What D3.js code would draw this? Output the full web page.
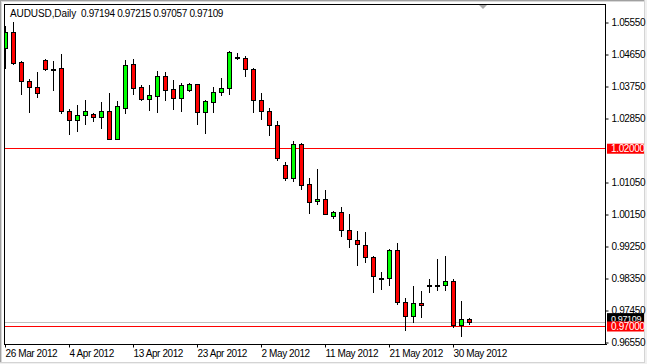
<!DOCTYPE html>
<html><head><meta charset="utf-8">
<script src="https://cdn.jsdelivr.net/npm/d3@7"></script>
<style>html,body{margin:0;padding:0;background:#fff;}svg{display:block;}</style>
</head><body>
<script>
const symbolTitle = "AUDUSD,Daily";
const lastBar = ["0.97194","0.97215","0.97057","0.97109"];
const tickIndex = [0,8,16,24,32,40,48,56];
const tickLabels = ["26 Mar 2012","4 Apr 2012","13 Apr 2012","23 Apr 2012","2 May 2012","11 May 2012","21 May 2012","30 May 2012"];
const priceTicks = [1.0555,1.0465,1.0375,1.0285,1.0105,1.0015,0.9925,0.9835,0.9745,0.9655];
const openP = [1.04828,1.05261,1.04426,1.03892,1.03724,1.04474,1.04230,1.04249,1.03049,1.02788,1.02928,1.02957,1.02889,1.03049,1.02254,1.03142,1.04361,1.03715,1.03378,1.03479,1.04024,1.03659,1.03423,1.03648,1.03799,1.03030,1.03311,1.03575,1.03687,1.04560,1.04530,1.04221,1.03350,1.03049,1.02647,1.01532,1.01175,1.02130,1.00998,1.00512,1.00577,1.00085,1.00203,0.99697,0.99416,0.99284,0.98939,0.98348,0.98348,0.99135,0.97674,0.97281,0.97646,0.98140,0.98140,0.98152,0.98264,0.97028,0.97194];
const highP = [1.05438,1.05558,1.04454,1.03948,1.04145,1.04510,1.04454,1.04651,1.03105,1.03218,1.03358,1.02993,1.03302,1.03563,1.03339,1.04474,1.04510,1.03780,1.03771,1.04173,1.04145,1.03920,1.03828,1.03844,1.03808,1.03358,1.03724,1.03976,1.04735,1.04671,1.04595,1.04257,1.03555,1.03134,1.02768,1.01616,1.02206,1.02158,1.01167,1.01420,1.00830,1.00240,1.00352,1.00155,0.99678,0.99649,0.98955,0.98525,0.99163,0.99340,0.97786,0.98124,0.97983,0.98320,0.98891,0.98975,0.98320,0.97711,0.97215];
const lowP = [1.04249,1.04370,1.03527,1.03030,1.03451,1.04207,1.03639,1.03002,1.02411,1.02496,1.02692,1.02777,1.02563,1.02250,1.02250,1.03002,1.03535,1.03358,1.03077,1.03030,1.03358,1.03105,1.03058,1.03620,1.02684,1.02431,1.03030,1.03490,1.03518,1.04502,1.04041,1.03030,1.02824,1.02383,1.01681,1.01119,1.01091,1.00866,1.00192,1.00445,1.00160,1.00043,0.99545,0.99208,0.98702,0.98806,0.97944,0.98028,0.98140,0.97618,0.96887,0.97112,0.97253,0.97944,0.98020,0.98000,0.96960,0.96708,0.97057];
const closeP = [1.05261,1.04390,1.03884,1.03715,1.03547,1.04221,1.04228,1.03041,1.02788,1.02928,1.03049,1.02872,1.03049,1.02254,1.03181,1.04333,1.03687,1.03378,1.03490,1.04024,1.03648,1.03423,1.03771,1.03799,1.03030,1.03322,1.03575,1.03687,1.04699,1.04560,1.04221,1.03344,1.03035,1.02642,1.01737,1.01175,1.02122,1.00978,1.00501,1.00585,1.00164,1.00203,0.99697,0.99444,0.99304,0.98939,0.98404,0.98348,0.99135,0.97674,0.97281,0.97646,0.97590,0.98140,0.98140,0.98264,0.97017,0.97196,0.97109];
const redLevels = [1.02000, 0.97000];
const bidLevel = 0.97109;

const W = 647, H = 364;
const L = 4, T = 4, R = 605, B = 344;
const FONT = "'Liberation Sans', Arial, sans-serif";

const svg = d3.select("body").append("svg").attr("width", W).attr("height", H);

// window frame
svg.append("rect").attr("x",0).attr("y",0).attr("width",W).attr("height",H).attr("fill","#f0f0f0");
svg.append("rect").attr("x",0).attr("y",0).attr("width",644).attr("height",362).attr("fill","#ffffff");
svg.append("line").attr("x1",0).attr("x2",644).attr("y1",0.5).attr("y2",0.5).attr("stroke","#a0a0a0");
svg.append("line").attr("x1",0.5).attr("x2",0.5).attr("y1",0).attr("y2",362).attr("stroke","#a0a0a0");
svg.append("line").attr("x1",1).attr("x2",644).attr("y1",1.5).attr("y2",1.5).attr("stroke","#d8d8d8");
svg.append("line").attr("x1",1.5).attr("x2",1.5).attr("y1",1).attr("y2",362).attr("stroke","#d8d8d8");
svg.append("line").attr("x1",644.5).attr("x2",644.5).attr("y1",0).attr("y2",363).attr("stroke","#d4d4d4");
svg.append("line").attr("x1",0).attr("x2",645).attr("y1",362.5).attr("y2",362.5).attr("stroke","#d4d4d4");

const x = d3.scaleLinear().domain([0, 75]).range([5.5, 605.5]);
const y = d3.scaleLinear().domain([0.9655, 1.0555]).range([342, 22]);
const sy = v => Math.round(y(v)) + 0.5;

svg.append("defs").append("clipPath").attr("id","plot")
  .append("rect").attr("x",L+1).attr("y",T+1).attr("width",R-L-1).attr("height",B-T-1);

const plot = svg.append("g").attr("clip-path","url(#plot)");

// horizontal levels
plot.append("line").attr("x1",L).attr("x2",R).attr("y1",sy(bidLevel)).attr("y2",sy(bidLevel))
  .attr("stroke","#c0c0c0").attr("stroke-width",1);
plot.selectAll("line.lvl").data(redLevels).join("line").attr("class","lvl")
  .attr("x1",L).attr("x2",R).attr("y1",d=>sy(d)).attr("y2",d=>sy(d))
  .attr("stroke","#ff0000").attr("stroke-width",1);

const bars = d3.range(openP.length).map(i => ({i, o:openP[i], h:highP[i], l:lowP[i], c:closeP[i]}));

// wicks
plot.selectAll("line.wick").data(bars).join("line").attr("class","wick")
  .attr("x1",d=>x(d.i)).attr("x2",d=>x(d.i))
  .attr("y1",d=>Math.round(y(d.h))).attr("y2",d=>Math.round(y(d.l))+1)
  .attr("stroke","#000").attr("stroke-width",1);

// bodies
plot.selectAll("rect.body").data(bars).join("rect").attr("class","body")
  .attr("x",d=>x(d.i)-2).attr("width",4)
  .attr("y",d=>Math.round(y(Math.max(d.o,d.c)))+0.5)
  .attr("height",d=>Math.max(1, Math.round(y(Math.min(d.o,d.c))) - Math.round(y(Math.max(d.o,d.c)))))
  .attr("fill",d=> Math.abs(d.c-d.o) < 0.00005 ? "#000" : (d.c > d.o ? "#00ff00" : "#ff0000"))
  .attr("stroke","#000").attr("stroke-width",1);

// plot frame
svg.append("line").attr("x1",L).attr("x2",R+1).attr("y1",T+0.5).attr("y2",T+0.5).attr("stroke","#000");
svg.append("line").attr("x1",L+0.5).attr("x2",L+0.5).attr("y1",T).attr("y2",B+1).attr("stroke","#000");
svg.append("line").attr("x1",R+0.5).attr("x2",R+0.5).attr("y1",T).attr("y2",B+1).attr("stroke","#000");
svg.append("line").attr("x1",L).attr("x2",R+2).attr("y1",B+0.5).attr("y2",B+0.5).attr("stroke","#000");

// shift marker
svg.append("path").attr("d","M479,5 L487,5 L483,9 Z").attr("fill","#a8a8a8");

// right price axis
const yAxis = d3.axisRight(y).tickValues(priceTicks).tickFormat(d3.format(".5f")).tickSize(3).tickPadding(3);
const ya = svg.append("g").attr("transform",`translate(${R+0.5},0.5)`).call(yAxis);
ya.select(".domain").remove();
ya.selectAll(".tick line").attr("stroke","#000");
ya.selectAll(".tick text").attr("font-family",FONT).attr("font-size","10px").attr("letter-spacing","-0.35px").attr("fill","#000");

// bottom time axis
const xAxis = d3.axisBottom(x).tickValues(tickIndex).tickFormat((d,k)=>tickLabels[k]).tickSize(3);
const xa = svg.append("g").attr("transform",`translate(-0.5,${B+0.5})`).call(xAxis);
xa.select(".domain").remove();
xa.selectAll(".tick line").attr("stroke","#000");
xa.selectAll(".tick text").attr("font-family",FONT).attr("font-size","10px").attr("letter-spacing","-0.4px")
  .attr("fill","#000").attr("text-anchor","start").attr("x",0).attr("y",12.5).attr("dy",null);

// price labels (bid label first, partly covered by the red level label)
function priceLabel(v, cy, bg, fg, fs){
  svg.append("rect").attr("x",607).attr("y",cy-5).attr("width",37).attr("height",10).attr("fill",bg);
  svg.append("text").attr("x",611).attr("y",cy+3.5).attr("font-family",FONT).attr("font-size",fs||"10px")
    .attr("letter-spacing","-0.35px").attr("fill",fg).text(d3.format(".5f")(v));
}
priceLabel(bidLevel, y(bidLevel)-4, "#000", "#fff", "9px");
redLevels.forEach(v => priceLabel(v, y(v)+0.5, "#ff0000", "#fff"));

// header
const hdr = svg.append("g").attr("font-family",FONT).attr("font-size","10px").attr("fill","#000");
hdr.append("text").attr("x",10).attr("y",16.5).attr("letter-spacing","-0.1px").text(symbolTitle);
hdr.append("text").attr("x",81).attr("y",16.5).attr("letter-spacing","-0.35px").text(lastBar.join(" "));
</script>
</body></html>
